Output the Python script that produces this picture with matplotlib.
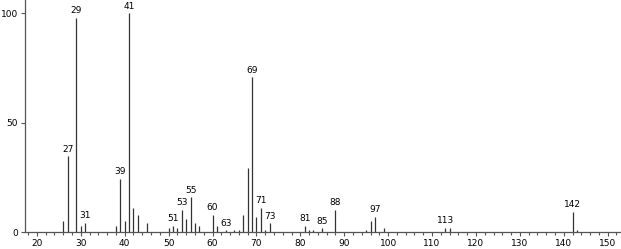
import matplotlib
matplotlib.use("Agg")
import matplotlib.pyplot as plt
from matplotlib.ticker import MultipleLocator

# m/z and relative abundance
mz = [26, 27, 29, 30, 31, 38, 39, 40, 41, 42, 43, 45,
      50, 51, 52, 53, 54, 55, 56, 57, 60, 61, 63, 65, 66, 67, 68, 69, 70, 71, 72, 73,
      81, 82, 83, 85, 88, 95, 96, 97, 99, 113, 114, 142, 143]
abundance = [5.0, 34.5, 98.0, 2.7, 4.1, 2.9, 24.2, 5.0, 100.0, 11.0, 7.9, 4.1,
             1.7, 2.7, 1.7, 10.1, 5.9, 15.9, 4.1, 2.9, 7.9, 2.9, 0.8, 0.9, 0.9, 7.8, 29.4, 70.7, 7.0, 11.1, 0.9, 4.0,
             2.7, 0.9, 0.9, 1.7, 10.1, 0.9, 5.0, 7.0, 1.8, 1.8, 1.8, 9.1, 1.0]
labelled = [27, 29, 31, 39, 41, 51, 53, 55, 60, 63, 69, 71, 73, 81, 85, 88, 97, 113, 142]

fig = plt.figure(figsize=(6.21, 2.49), dpi=100)
ax = fig.add_axes([25 / 621, 17 / 249, 595 / 621, 232 / 249])

ax.vlines(mz, 0, abundance, color="#333333", linewidth=0.9)

for m, a in zip(mz, abundance):
    if m in labelled:
        ax.text(m, a + 1.2, str(m), ha="center", va="bottom", fontsize=6.5, color="black")

ax.set_xlim(17.3, 152.8)
ax.set_ylim(0, 106)
ax.xaxis.set_major_locator(MultipleLocator(10))
ax.xaxis.set_minor_locator(MultipleLocator(2))
ax.set_yticks([0, 50, 100])

ax.spines["top"].set_visible(False)
ax.spines["right"].set_visible(False)
for s in ["left", "bottom"]:
    ax.spines[s].set_color("#555555")
    ax.spines[s].set_linewidth(0.9)

ax.tick_params(axis="both", which="major", labelsize=6.5, length=3, width=0.8, colors="#555555", labelcolor="black", pad=2)
ax.tick_params(axis="x", which="minor", length=2, width=0.8, colors="#555555")

fig.savefig("out.png", dpi=100)
